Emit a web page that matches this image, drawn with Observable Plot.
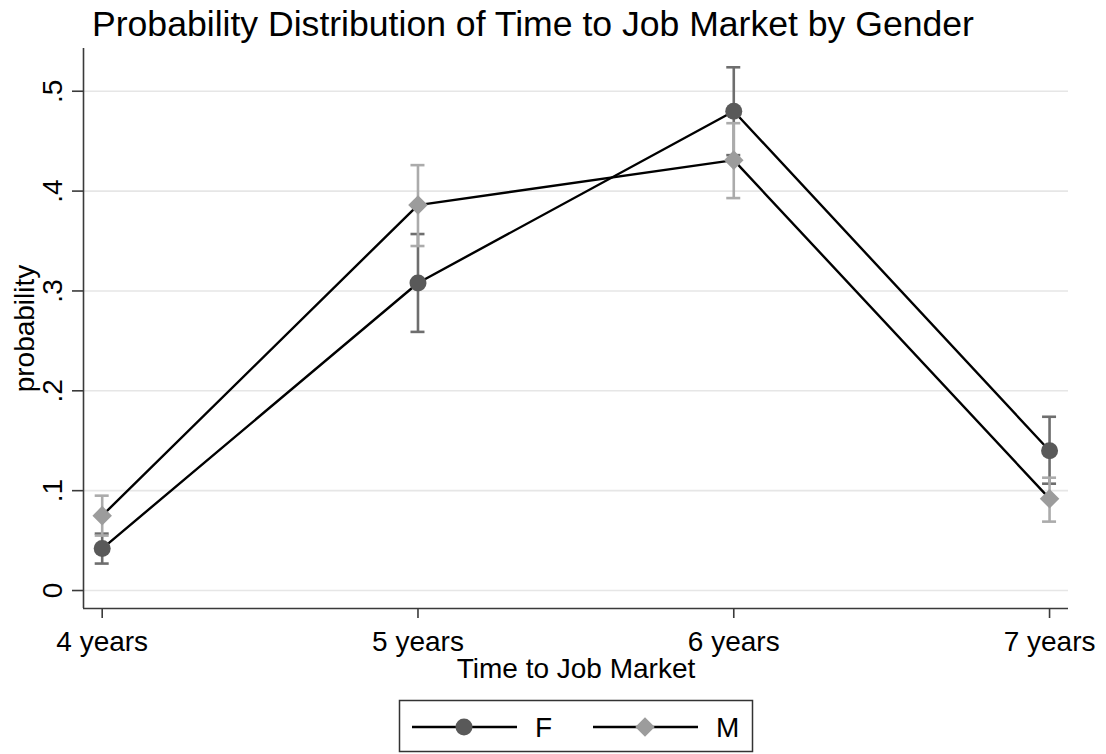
<!DOCTYPE html>
<html>
<head>
<meta charset="utf-8">
<script src="https://cdn.jsdelivr.net/npm/d3@7"></script>
<script src="https://cdn.jsdelivr.net/npm/@observablehq/plot@0.6"></script>
<style>
  body { margin: 0; background: #fff; }
  #chart { width: 1106px; height: 754px; }
</style>
</head>
<body>
<div id="chart"></div>
<script>
// Time to job market (years) and its tick labels
const years = [4, 5, 6, 7];
const yearLabels = ["4 years", "5 years", "6 years", "7 years"];

// Predicted probabilities with 95% confidence bounds, women
const fProb = [0.042, 0.308, 0.480, 0.140];
const fLow  = [0.027, 0.259, 0.436, 0.107];
const fHigh = [0.057, 0.357, 0.524, 0.174];

// Predicted probabilities with 95% confidence bounds, men
const mProb = [0.075, 0.386, 0.431, 0.092];
const mLow  = [0.055, 0.345, 0.393, 0.069];
const mHigh = [0.095, 0.426, 0.468, 0.113];

// Y axis ticks and their labels
const yTicks = [0, 0.1, 0.2, 0.3, 0.4, 0.5];
const yTickLabels = ["0", ".1", ".2", ".3", ".4", ".5"];

// Series appearance
const seriesNames = ["F", "M"];
const markerFill = ["#595959", "#9c9c9c"];
const barStroke = ["#6e6e6e", "#ababab"];
const markerSymbol = ["circle", "diamond2"];
const markerR = [8.5, 8.8];

const xDomain = [3.9408, 7.060];
const yDomain = [-0.018, 0.5428];

const rows = (probs, lows, highs) =>
  years.map((yr, i) => ({year: yr, p: probs[i], lo: lows[i], hi: highs[i]}));
const series = [rows(fProb, fLow, fHigh), rows(mProb, mLow, mHigh)];

const font = "'Liberation Sans', Arial, Helvetica, sans-serif";
const labelSize = 28;

const marks = [
  // horizontal grid
  Plot.ruleY(yTicks, {stroke: "#e6e6e6", strokeWidth: 1.6}),
  // axis lines
  Plot.ruleX([xDomain[0]], {stroke: "#3a3a3a", strokeWidth: 1.6}),
  Plot.ruleY([yDomain[0]], {stroke: "#3a3a3a", strokeWidth: 1.6}),
  // y ticks (pointing left)
  Plot.ruleY(yTicks, {x1: xDomain[0], x2: xDomain[0], insetLeft: -11, stroke: "#3a3a3a", strokeWidth: 1.6}),
  // x ticks (pointing down)
  Plot.ruleX(years, {y1: yDomain[0], y2: yDomain[0], insetBottom: -10, stroke: "#3a3a3a", strokeWidth: 1.6}),
  // y tick labels, rotated
  Plot.text(yTicks, {y: d => d, text: (d, i) => yTickLabels[i], frameAnchor: "left", dx: -22,
    rotate: -90, textAnchor: "middle", lineAnchor: "bottom", fontSize: labelSize}),
  // x tick labels
  Plot.text(years, {x: d => d, text: (d, i) => yearLabels[i], frameAnchor: "bottom", dy: 42,
    textAnchor: "middle", lineAnchor: "bottom", fontSize: labelSize}),
  // axis titles
  Plot.text(["Time to Job Market"], {frameAnchor: "bottom", dy: 69, lineAnchor: "bottom", fontSize: labelSize}),
  Plot.text(["probability"], {frameAnchor: "left", dx: -50, rotate: -90, textAnchor: "middle",
    lineAnchor: "bottom", fontSize: labelSize})
];

// confidence intervals with caps
series.forEach((data, s) => {
  marks.push(
    Plot.ruleX(data, {x: "year", y1: "lo", y2: "hi", stroke: barStroke[s], strokeWidth: 2.6}),
    Plot.ruleY(data, {x1: "year", x2: "year", y: "lo", insetLeft: -7, insetRight: -7, stroke: barStroke[s], strokeWidth: 2.6}),
    Plot.ruleY(data, {x1: "year", x2: "year", y: "hi", insetLeft: -7, insetRight: -7, stroke: barStroke[s], strokeWidth: 2.6})
  );
});
// connecting lines
series.forEach((data) => {
  marks.push(Plot.line(data, {x: "year", y: "p", stroke: "#000", strokeWidth: 2.4}));
});
// markers
series.forEach((data, s) => {
  marks.push(Plot.dot(data, {x: "year", y: "p", r: markerR[s], symbol: markerSymbol[s], fill: markerFill[s], stroke: "none"}));
});

const chart = Plot.plot({
  width: 1106,
  height: 754,
  marginLeft: 83,
  marginRight: 38,
  marginTop: 48,
  marginBottom: 146,
  x: {type: "linear", domain: xDomain, axis: null},
  y: {type: "linear", domain: yDomain, axis: null},
  style: {fontFamily: font, color: "#000", background: "#fff", overflow: "visible"},
  marks
});

const svg = d3.select(chart);

// title
svg.append("text")
  .attr("x", 92).attr("y", 36)
  .attr("font-size", 35.6)
  .attr("font-family", font)
  .attr("text-anchor", "start")
  .attr("fill", "#000")
  .text("Probability Distribution of Time to Job Market by Gender");

// legend box
const lg = svg.append("g").attr("font-family", font);
lg.append("rect")
  .attr("x", 399.5).attr("y", 700.5).attr("width", 353).attr("height", 51)
  .attr("fill", "#fff").attr("stroke", "#333").attr("stroke-width", 1.5);
const itemX = [412, 593];
const symGen = {circle: d3.symbolCircle, diamond2: d3.symbolDiamond2};
seriesNames.forEach((name, s) => {
  const g = lg.append("g").attr("transform", `translate(${itemX[s]},727)`);
  g.append("line").attr("x1", 0).attr("x2", 105).attr("y1", 0).attr("y2", 0)
    .attr("stroke", "#000").attr("stroke-width", 2.4);
  g.append("path")
    .attr("transform", "translate(52,0)")
    .attr("d", d3.symbol(symGen[markerSymbol[s]], markerR[s] * markerR[s] * Math.PI)())
    .attr("fill", markerFill[s]);
  g.append("text").attr("x", 123).attr("y", 10).attr("font-size", labelSize)
    .attr("text-anchor", "start").attr("fill", "#000").text(name);
});

document.getElementById("chart").appendChild(chart);
</script>
</body>
</html>
